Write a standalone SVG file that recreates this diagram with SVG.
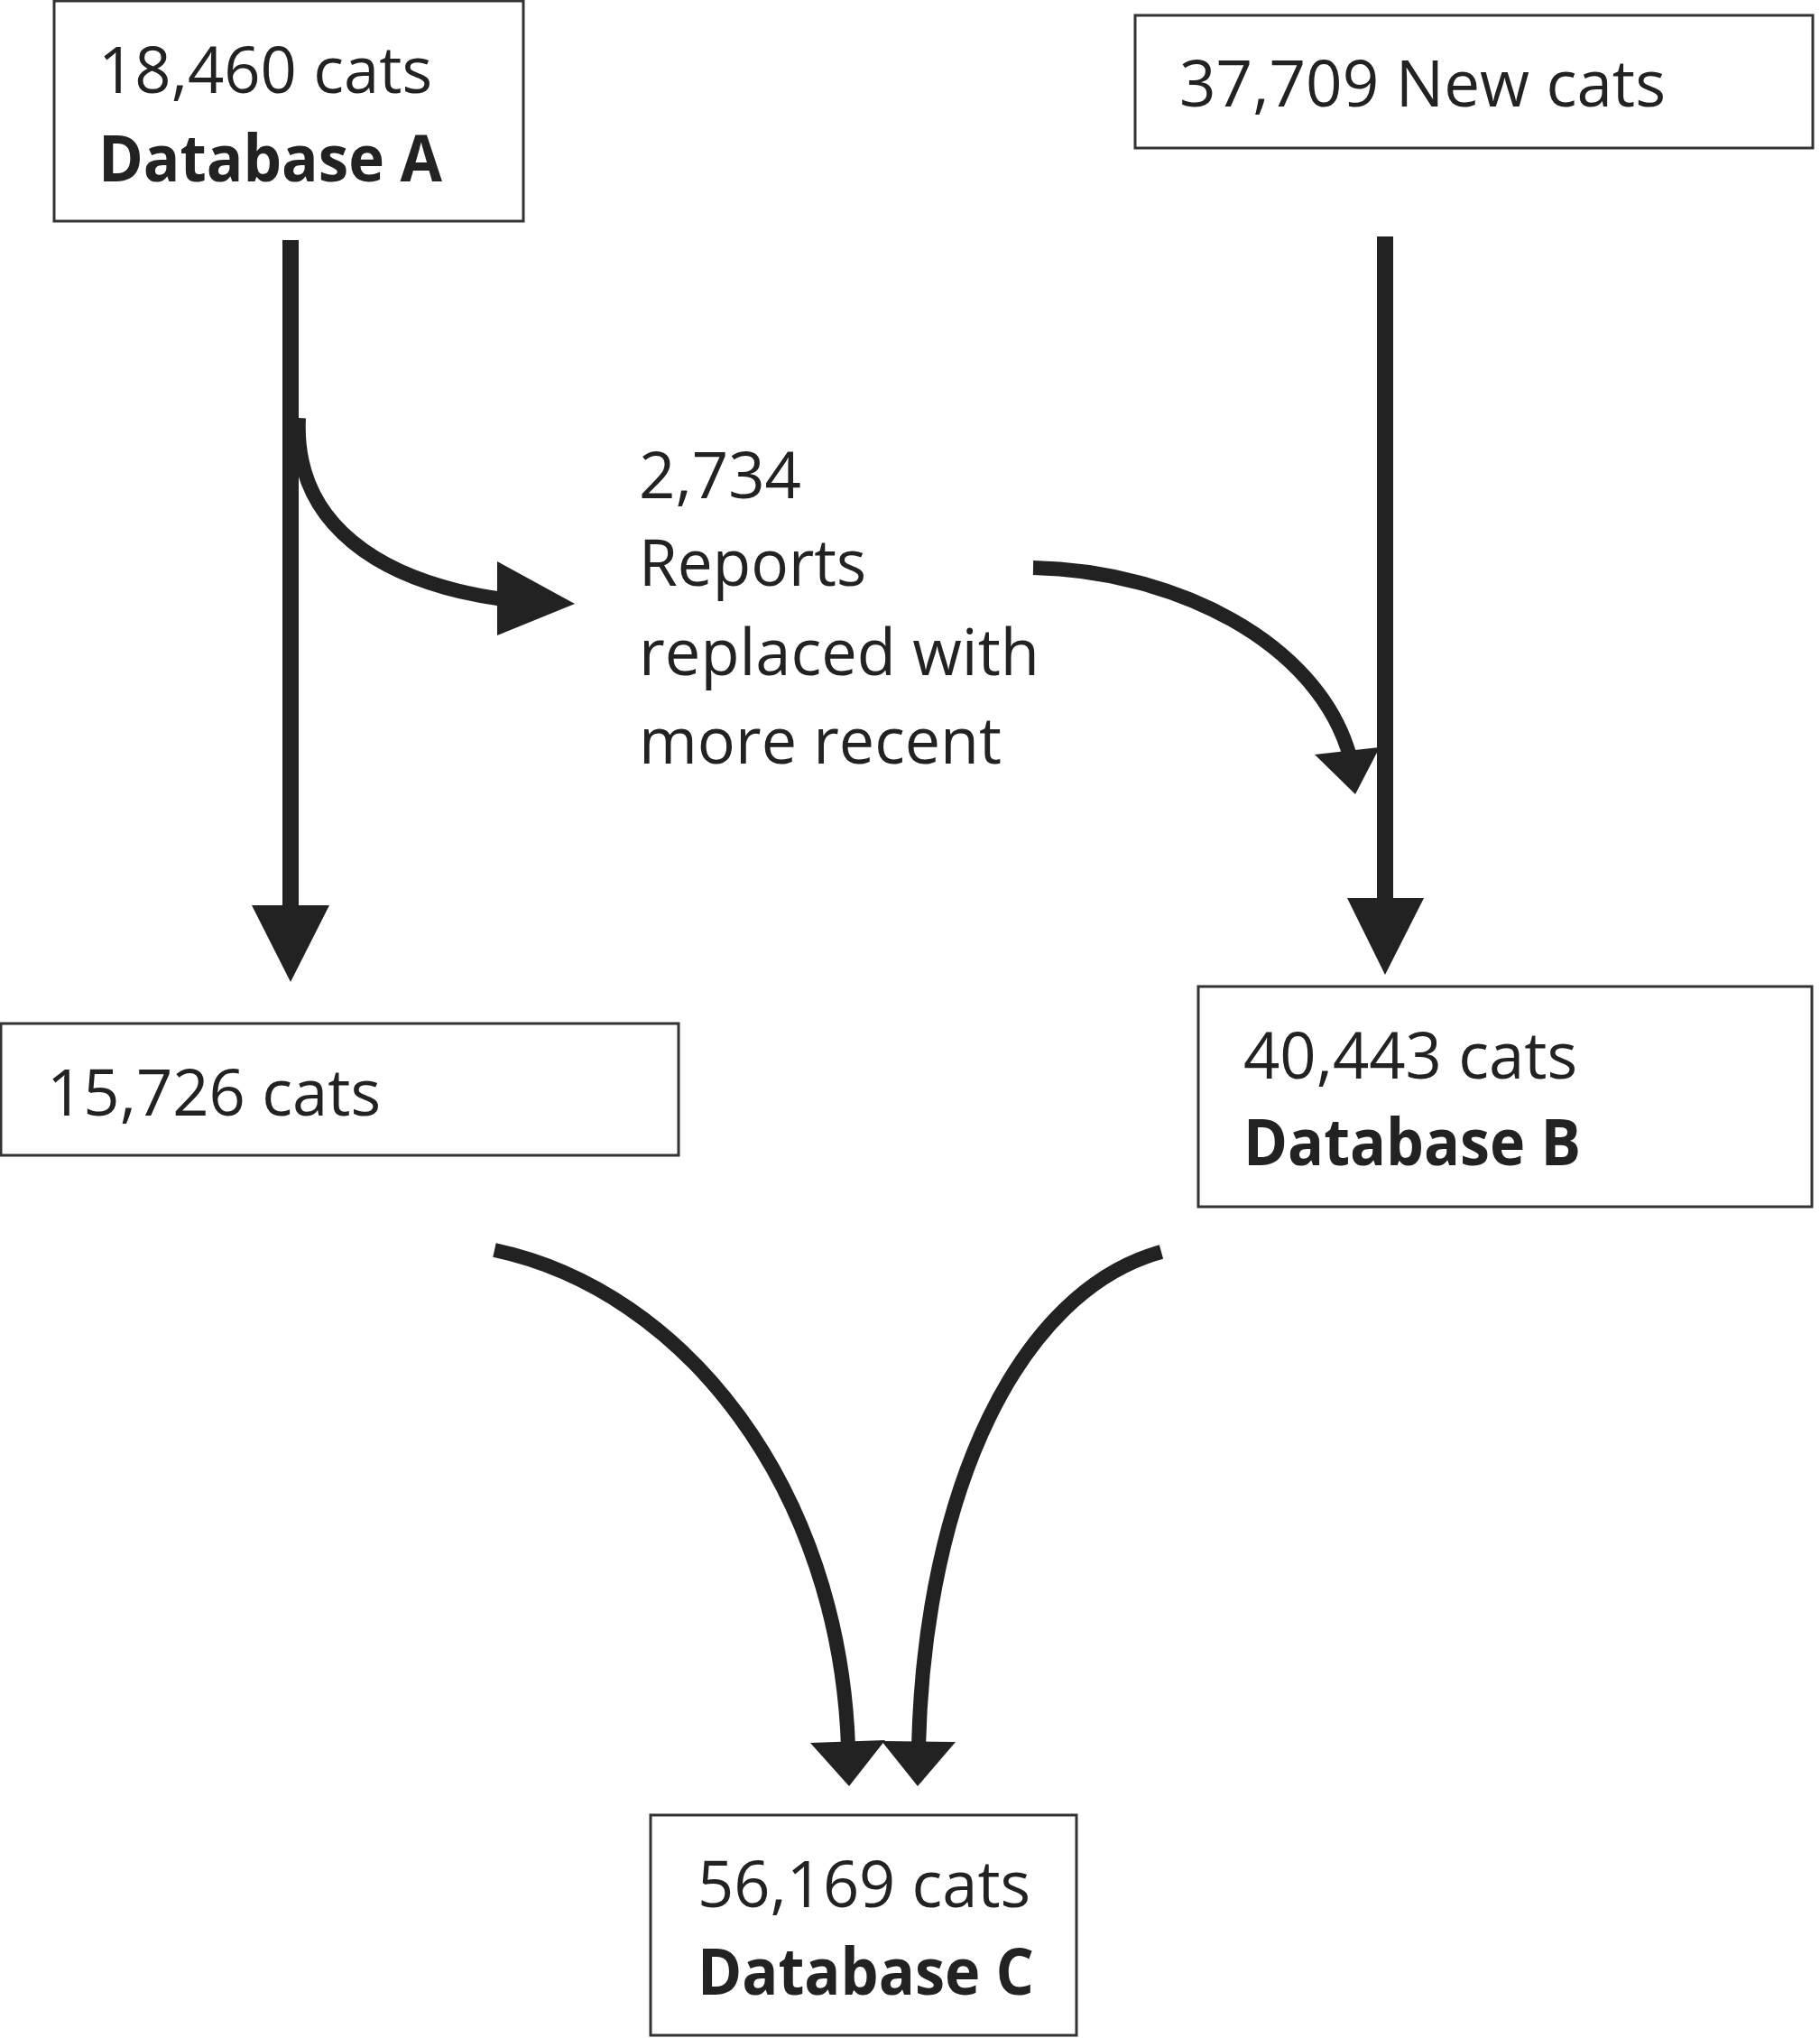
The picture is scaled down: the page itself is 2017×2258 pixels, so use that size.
<svg xmlns="http://www.w3.org/2000/svg" width="2017" height="2258" viewBox="0 0 2017 2258">
<style>
.box{fill:#fff;stroke:#333;stroke-width:3}
.t{font-family:"Open Sans","Liberation Sans",sans-serif;font-size:72px;fill:#222}
.b{font-weight:bold}
.bar{stroke:#222;stroke-width:18;fill:none}
.crv{stroke:#222;stroke-width:16;fill:none}
.head{fill:#222}
</style>
<rect width="2017" height="2258" fill="#fff"/>
<g id="connectors">
<line class="bar" x1="322" y1="266" x2="322" y2="1010"/>
<polygon class="head" points="279,1003 365,1003 322,1088"/>
<path class="crv" d="M331 463 C325 580 420 645 558 664"/>
<polygon class="head" points="551,622 551,704 637,669"/>
<path class="crv" d="M1145 629 C1300 632 1460 710 1496 838"/>
<polygon class="head" points="1457,836 1529,828 1502,880"/>
<line class="bar" x1="1535" y1="262" x2="1535" y2="995"/>
<polygon class="head" points="1493,995 1578,995 1535,1080"/>
<path class="crv" d="M548 1385 C760 1430 930 1650 940 1935"/>
<polygon class="head" points="898,1931 981,1928 941,1979"/>
<path class="crv" d="M1287 1387 C1130 1430 1025 1650 1018 1935"/>
<polygon class="head" points="977,1929 1059,1930 1017,1979"/>
</g>
<g id="node-db-a">
<rect class="box" x="60" y="1" width="520" height="244"/>
<text class="t" x="109" y="103" textLength="370" lengthAdjust="spacingAndGlyphs">18,460 cats</text>
<text class="t b" x="109" y="201" textLength="381" lengthAdjust="spacingAndGlyphs">Database A</text>
</g>
<g id="node-new-cats">
<rect class="box" x="1258" y="17" width="751" height="147"/>
<text class="t" x="1307" y="118" textLength="539" lengthAdjust="spacingAndGlyphs">37,709 New cats</text>
</g>
<g id="node-replaced">
<text class="t" x="708" y="552" textLength="180" lengthAdjust="spacingAndGlyphs">2,734</text>
<text class="t" x="708" y="649" textLength="252" lengthAdjust="spacingAndGlyphs">Reports</text>
<text class="t" x="708" y="748" textLength="444" lengthAdjust="spacingAndGlyphs">replaced with</text>
<text class="t" x="708" y="846" textLength="402" lengthAdjust="spacingAndGlyphs">more recent</text>
</g>
<g id="node-15726">
<rect class="box" x="1" y="1134" width="751" height="146"/>
<text class="t" x="52" y="1236" textLength="370" lengthAdjust="spacingAndGlyphs">15,726 cats</text>
</g>
<g id="node-db-b">
<rect class="box" x="1328" y="1093" width="680" height="244"/>
<text class="t" x="1378" y="1195" textLength="370" lengthAdjust="spacingAndGlyphs">40,443 cats</text>
<text class="t b" x="1378" y="1291" textLength="374" lengthAdjust="spacingAndGlyphs">Database B</text>
</g>
<g id="node-db-c">
<rect class="box" x="721" y="2011" width="472" height="244"/>
<text class="t" x="773" y="2113" textLength="369" lengthAdjust="spacingAndGlyphs">56,169 cats</text>
<text class="t b" x="773" y="2210" textLength="373" lengthAdjust="spacingAndGlyphs">Database C</text>
</g>
</svg>
